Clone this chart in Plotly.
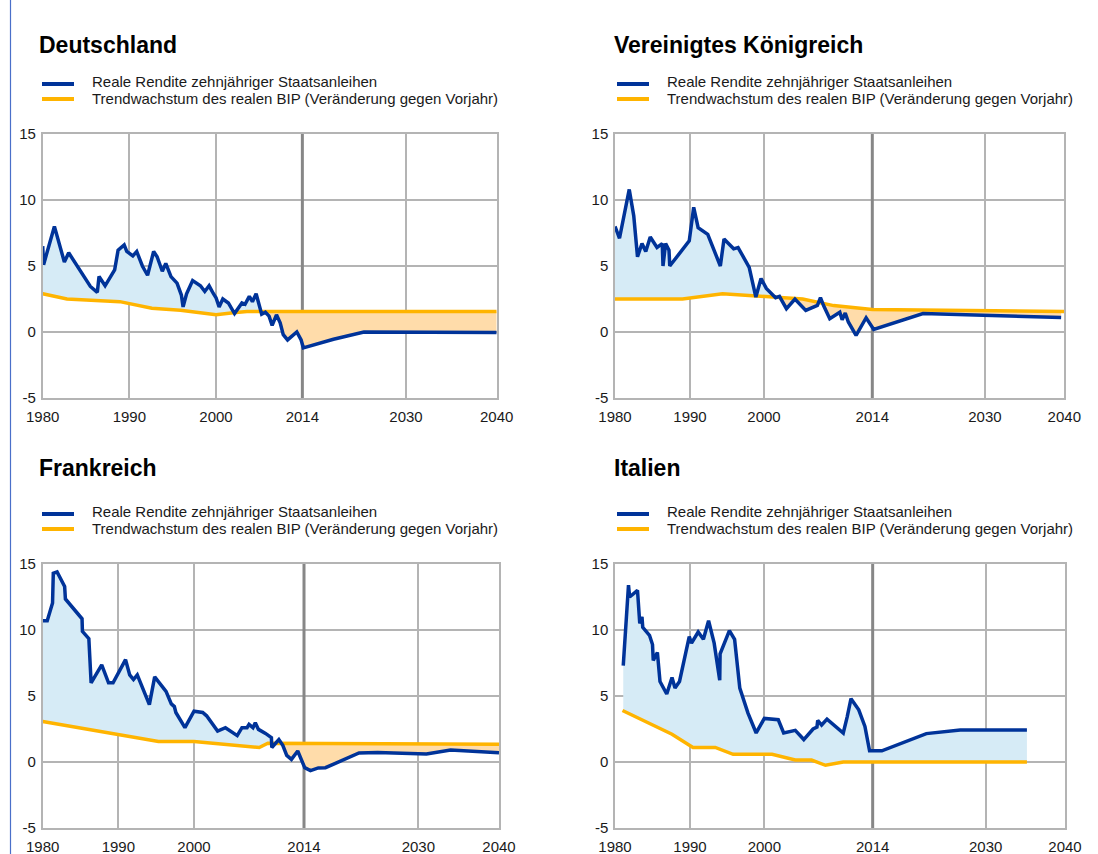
import numpy as np
import plotly.graph_objects as go

W, H = 1098, 854

# ---------------- data ----------------
tick_years = [1980, 1990, 2000, 2014, 2030, 2040]
tick_labels = ["1980", "1990", "2000", "2014", "2030", "2040"]
y_tickvals = [-5, 0, 5, 10, 15]
y_ticklabels = ["-5", "0", "5", "10", "15"]
series_names = ["Reale Rendite zehnjähriger Staatsanleihen",
                "Trendwachstum des realen BIP (Veränderung gegen Vorjahr)"]
countries = ["Deutschland", "Vereinigtes Königreich", "Frankreich", "Italien"]
marker_year = 2014

# Deutschland
de_yield_years = [1980.0, 1980.1, 1981.35, 1982.5, 1983.0, 1985.5, 1986.3, 1986.5, 1987.2, 1988.3,
                  1988.7, 1989.4, 1989.7, 1990.4, 1990.85, 1991.5, 1992.1, 1992.8, 1993.2, 1993.8,
                  1994.2, 1994.8, 1995.5, 1996.0, 1996.2, 1996.6, 1997.3, 1998.2, 1998.7, 1999.2,
                  1999.7, 2000.0, 2000.5, 2001.1, 2002.0, 2003.0, 2004.2, 2004.7, 2005.4, 2005.9,
                  2006.5, 2007.4, 2008.0, 2008.6, 2009.1, 2009.8, 2010.4, 2010.9, 2011.6, 2012.4,
                  2013.1, 2013.8, 2014.15, 2018.8, 2023.5, 2040.0]
de_yield = [6.5, 5.1, 8.0, 5.3, 6.0, 3.45, 3.0, 4.2, 3.5, 4.7,
            6.2, 6.6, 6.1, 5.77, 6.1, 5.0, 4.3, 6.1, 5.7, 4.6,
            5.2, 4.2, 3.7, 2.8, 1.9, 2.9, 3.9, 3.5, 3.07, 3.5,
            2.9, 2.6, 1.9, 2.5, 2.2, 1.4, 2.2, 2.1, 2.7, 2.3,
            2.9, 1.35, 1.5, 1.2, 0.5, 1.3, 0.7, -0.2, -0.6, -0.3,
            0.0, -0.6, -1.2, -0.55, 0.0, -0.03]
de_growth_years = [1980.0, 1982.8, 1988.9, 1992.6, 1995.9, 2000.0, 2002.8, 2005.0, 2040.0]
de_growth = [2.9, 2.5, 2.3, 1.8, 1.65, 1.3, 1.45, 1.55, 1.55]

# Vereinigtes Königreich
uk_yield_years = [1980.0, 1980.6, 1981.9, 1982.5, 1983.0, 1983.6, 1984.1, 1984.7, 1985.6, 1986.3,
                  1986.4, 1986.75, 1987.2, 1987.3, 1989.9, 1990.5, 1991.1, 1992.4, 1994.1, 1994.6,
                  1995.9, 1996.5, 1998.0, 1998.9, 1999.6, 2000.3, 2001.5, 2002.0, 2002.9, 2004.0,
                  2005.4, 2006.9, 2007.3, 2007.7, 2008.5, 2009.8, 2010.1, 2010.5, 2010.9, 2011.9,
                  2013.2, 2014.2, 2021.2, 2030.0, 2039.6]
uk_yield = [8.0, 7.1, 10.8, 8.8, 5.7, 6.7, 6.1, 7.2, 6.4, 6.7,
            5.0, 6.7, 6.2, 5.0, 6.9, 9.45, 7.9, 7.4, 5.0, 7.05,
            6.3, 6.4, 4.9, 2.65, 4.05, 3.3, 2.6, 2.7, 1.77, 2.5,
            1.64, 2.02, 2.6, 2.0, 1.0, 1.5, 0.93, 1.44, 0.76, -0.25,
            1.08, 0.2, 1.4, 1.25, 1.1]
uk_growth_years = [1980.0, 1989.0, 1994.4, 2000.0, 2005.0, 2009.0, 2014.0, 2040.0]
uk_growth = [2.5, 2.5, 2.9, 2.7, 2.5, 2.0, 1.7, 1.55]

# Frankreich
fr_yield_years = [1980.0, 1980.6, 1981.3, 1981.4, 1981.9, 1982.9, 1983.0, 1984.5, 1985.2, 1985.25,
                  1986.1, 1986.4, 1987.8, 1988.7, 1989.3, 1990.95, 1991.5, 1992.0, 1992.5, 1994.1,
                  1994.8, 1996.3, 1997.0, 1997.4, 1997.6, 1998.8, 2000.0, 2001.1, 2001.6, 2003.0,
                  2004.0, 2005.5, 2006.1, 2006.75, 2007.0, 2007.5, 2007.8, 2008.2, 2009.1, 2009.85,
                  2009.9, 2010.8, 2011.3, 2011.8, 2012.4, 2013.2, 2014.1, 2014.9, 2016.0, 2017.0,
                  2020.5, 2021.7, 2024.3, 2030.0, 2031.0, 2034.0, 2040.0]
fr_yield = [10.7, 10.7, 12.05, 14.3, 14.4, 13.3, 12.35, 11.35, 10.85, 9.9,
            9.35, 6.0, 7.35, 6.0, 6.0, 7.75, 6.6, 6.25, 6.6, 4.35,
            6.45, 5.35, 4.4, 4.2, 3.75, 2.6, 3.85, 3.75, 3.5, 2.34,
            2.6, 2.0, 2.6, 2.6, 2.85, 2.6, 2.97, 2.47, 2.17, 1.84,
            1.1, 1.7, 1.26, 0.5, 0.2, 0.83, -0.43, -0.65, -0.45, -0.43,
            0.4, 0.68, 0.72, 0.62, 0.6, 0.9, 0.7]
fr_growth_years = [1980.0, 1995.3, 2000.0, 2008.3, 2009.4, 2040.0]
fr_growth = [3.07, 1.56, 1.56, 1.1, 1.42, 1.35]

# Italien
it_yield_years = [1981.1, 1981.8, 1981.95, 1983.0, 1983.3, 1983.6, 1983.7, 1984.6, 1985.0, 1985.1,
                  1985.65, 1986.0, 1986.9, 1987.6, 1988.0, 1988.6, 1989.9, 1990.2, 1991.1, 1991.8,
                  1992.5, 1993.25, 1994.0, 1994.05, 1995.3, 1996.0, 1996.7, 1997.8, 1998.9, 2000.0,
                  2001.8, 2002.5, 2004.0, 2005.1, 2006.3, 2006.8, 2006.9, 2007.4, 2008.1, 2009.3,
                  2010.2, 2010.7, 2011.2, 2012.2, 2013.0, 2013.6, 2015.3, 2021.6, 2026.4, 2035.2]
it_yield = [7.3, 13.4, 12.5, 13.0, 10.5, 11.0, 10.2, 9.6, 8.9, 7.7,
            8.3, 6.1, 5.15, 6.4, 5.6, 6.1, 9.5, 9.0, 9.85, 9.3,
            10.7, 9.0, 6.2, 8.2, 9.95, 9.3, 5.6, 3.7, 2.2, 3.3,
            3.2, 2.2, 2.4, 1.7, 2.5, 2.65, 3.15, 2.8, 3.25, 2.65,
            2.2, 3.4, 4.8, 3.95, 2.7, 0.85, 0.85, 2.15, 2.42, 2.42]
it_growth_years = [1981.0, 1987.6, 1990.4, 1993.4, 1995.8, 2001.0, 2004.0, 2006.1, 2007.9, 2010.2, 2035.2]
it_growth = [3.9, 2.1, 1.1, 1.1, 0.58, 0.58, 0.15, 0.15, -0.25, 0.0, 0.0]

# ---------------- style / layout ----------------
BLUE = "#003399"
ORANGE = "#ffb400"
BLUE_FILL = "#d6ebf6"
ORANGE_FILL = "#ffdcaa"
GRID = "#b4b4b4"
TXT = "#1a1a1a"
FONT = "Liberation Sans, Arial, sans-serif"

# window-pixel geometry of each panel; tick_px = relative positions of the year ticks
# along the (non-uniform) time axis of the original chart
panels = [
    dict(yy=de_yield_years, y=de_yield, gy=de_growth_years, g=de_growth,
         left=42.7, right=496.7, top=134, bottom=398, tick_px=[0, 260, 520, 779, 1090, 1362],
         title_x=37, title_y=45, leg_x=42, leg_y=84),
    dict(yy=uk_yield_years, y=uk_yield, gy=uk_growth_years, g=uk_growth,
         left=615, right=1064.3, top=134, bottom=398, tick_px=[0, 225, 447, 772, 1110, 1348],
         title_x=612, title_y=45, leg_x=617, leg_y=84),
    dict(yy=fr_yield_years, y=fr_yield, gy=fr_growth_years, g=fr_growth,
         left=42.7, right=499, top=564, bottom=828, tick_px=[0, 227, 454, 784, 1127, 1369],
         title_x=37, title_y=468, leg_x=42, leg_y=514),
    dict(yy=it_yield_years, y=it_yield, gy=it_growth_years, g=it_growth,
         left=615, right=1065, top=564, bottom=828, tick_px=[0, 225, 448, 773, 1112, 1350],
         title_x=612, title_y=468, leg_x=617, leg_y=514),
]


def px_x(v):
    return v / W


def px_y(v):
    return 1 - v / H


def to_axis(years, tick_px):
    return np.interp(np.asarray(years, dtype=float), tick_years, tick_px)


def split_fill(xa, ya, xb, yb):
    lo, hi = max(xa[0], xb[0]), min(xa[-1], xb[-1])
    grid = np.unique(np.concatenate([xa, xb]))
    grid = grid[(grid >= lo) & (grid <= hi)]
    d = np.interp(grid, xa, ya) - np.interp(grid, xb, yb)
    xs = [grid[0]]
    for i in range(1, len(grid)):
        if d[i - 1] * d[i] < 0:
            t = d[i - 1] / (d[i - 1] - d[i])
            xs.append(grid[i - 1] + t * (grid[i] - grid[i - 1]))
        xs.append(grid[i])
    xs = np.array(xs)
    yi = np.interp(xs, xa, ya)
    gi = np.interp(xs, xb, yb)
    return xs, np.maximum(yi, gi), np.minimum(yi, gi), gi


fig = go.Figure()
shapes = []
annotations = []
layout_axes = {}

for i, (p, name) in enumerate(zip(panels, countries)):
    n = "" if i == 0 else str(i + 1)
    xa_name, ya_name = "x" + n, "y" + n
    xa = to_axis(p["yy"], p["tick_px"])
    xb = to_axis(p["gy"], p["tick_px"])
    ya = np.array(p["y"], dtype=float)
    yb = np.array(p["g"], dtype=float)
    xs, upper, lower, gi = split_fill(xa, ya, xb, yb)

    invisible = dict(width=0, color="rgba(0,0,0,0)")
    common = dict(xaxis=xa_name, yaxis=ya_name, mode="lines", showlegend=False, hoverinfo="skip")

    # emphasised 2014 reference line (drawn under the fills)
    xm = float(to_axis([marker_year], p["tick_px"])[0])
    fig.add_trace(go.Scatter(x=[xm, xm], y=[y_tickvals[0], y_tickvals[-1]],
                             line=dict(color="#878787", width=3), **common))

    fig.add_trace(go.Scatter(x=xs, y=gi, line=invisible, **common))
    fig.add_trace(go.Scatter(x=xs, y=upper, line=invisible, fill="tonexty", fillcolor=BLUE_FILL, **common))
    fig.add_trace(go.Scatter(x=xs, y=gi, line=invisible, **common))
    fig.add_trace(go.Scatter(x=xs, y=lower, line=invisible, fill="tonexty", fillcolor=ORANGE_FILL, **common))
    fig.add_trace(go.Scatter(x=xb, y=yb, name=series_names[1], xaxis=xa_name, yaxis=ya_name, mode="lines",
                             line=dict(color=ORANGE, width=3.5), showlegend=False))
    fig.add_trace(go.Scatter(x=xa, y=ya, name=series_names[0], xaxis=xa_name, yaxis=ya_name, mode="lines",
                             line=dict(color=BLUE, width=3.5), showlegend=False))

    xdom = [px_x(p["left"]), px_x(p["right"])]
    ydom = [px_y(p["bottom"]), px_y(p["top"])]
    layout_axes["xaxis" + n] = dict(
        domain=xdom, anchor=ya_name, range=[p["tick_px"][0], p["tick_px"][-1]],
        tickvals=p["tick_px"], ticktext=tick_labels, showgrid=True, gridcolor=GRID, gridwidth=1.5,
        showline=True, mirror=True, linecolor=GRID, linewidth=1.5, zeroline=False,
        ticks="outside", ticklen=4, tickcolor="rgba(0,0,0,0)", automargin=False,
        tickfont=dict(family=FONT, size=15, color=TXT), fixedrange=True)
    layout_axes["yaxis" + n] = dict(
        domain=ydom, anchor=xa_name, range=[-5, 15], tickvals=y_tickvals, ticktext=y_ticklabels,
        showgrid=True, gridcolor=GRID, gridwidth=1.5, showline=True, mirror=True, linecolor=GRID,
        linewidth=1.5, zeroline=False, ticks="outside", ticklen=2, tickcolor="rgba(0,0,0,0)",
        automargin=False, tickfont=dict(family=FONT, size=15, color=TXT), fixedrange=True)

    # title
    annotations.append(dict(text="<b>" + name + "</b>", xref="paper", yref="paper",
                            x=px_x(p["title_x"]), y=px_y(p["title_y"]), xanchor="left", yanchor="middle",
                            showarrow=False, font=dict(family=FONT, size=23, color="#000000")))
    # legend (per panel)
    for k, (col, label) in enumerate([(BLUE, series_names[0]), (ORANGE, series_names[1])]):
        ly = p["leg_y"] + 15 * k
        shapes.append(dict(type="line", xref="paper", yref="paper",
                           x0=px_x(p["leg_x"]), x1=px_x(p["leg_x"] + 32),
                           y0=px_y(ly), y1=px_y(ly), line=dict(color=col, width=4)))
        annotations.append(dict(text=label, xref="paper", yref="paper",
                                x=px_x(p["leg_x"] + 48), y=px_y(ly - 2.5 + 1.5 * k),
                                xanchor="left", yanchor="middle", showarrow=False,
                                font=dict(family=FONT, size=15, color=TXT)))

# thin blue frame line on the left edge
shapes.append(dict(type="line", xref="paper", yref="paper", x0=px_x(10.5), x1=px_x(10.5), y0=0, y1=1,
                   line=dict(color="#4a6fc9", width=1.2)))

fig.update_layout(
    width=W, height=H, autosize=False, margin=dict(l=0, r=0, t=0, b=0, pad=0),
    paper_bgcolor="white", plot_bgcolor="white",
    showlegend=False, shapes=shapes, annotations=annotations,
    font=dict(family=FONT, color=TXT),
    **layout_axes)

fig.write_html("out.html", config={"displayModeBar": False},
               post_script="document.body.style.margin='0';document.body.style.overflow='hidden';")
